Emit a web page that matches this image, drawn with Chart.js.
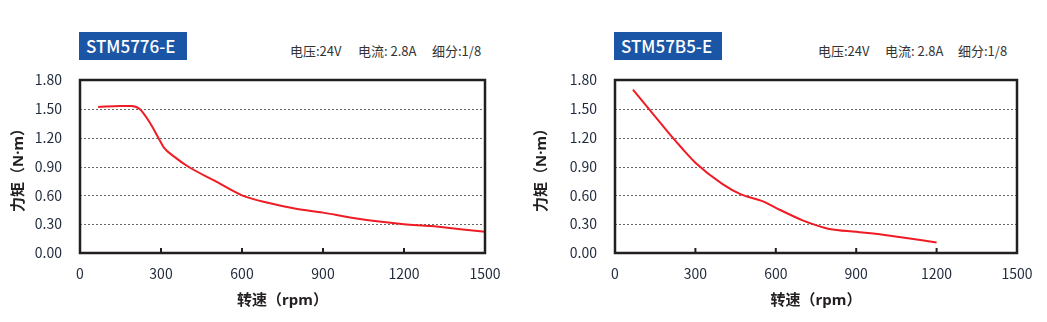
<!DOCTYPE html>
<html lang="zh">
<head>
<meta charset="UTF-8">
<title>矩频特性曲线</title>
<script src="https://cdn.jsdelivr.net/npm/chart.js"></script>
<style>
    body { margin: 0; background: #fff; font-family: "Noto Sans CJK SC", "Noto Sans", sans-serif; }
    .wrap { position: relative; width: 1047px; height: 322px; overflow: hidden; }
    .panel { position: absolute; top: 0; width: 523px; height: 322px; }
    .panel canvas { position: absolute; left: 0; top: 0; }
    .model {
        position: absolute; top: 32px; height: 28px; line-height: 28px;
        background: #1b55a5; color: #fff; font-size: 17px; font-weight: 500; padding: 0 7px;
    }
    .info { position: absolute; top: 41px; font-size: 13px; color: #333; white-space: pre; }
</style>
</head>
<body>
<div class="wrap">
    <div class="panel" style="left:0">
        <div class="model" style="left:79px; width:94px">STM5776-E</div>
        <div class="info" style="left:290px">电压:24V</div>
        <div class="info" style="left:358px">电流: 2.8A</div>
        <div class="info" style="left:432px">细分:1/8</div>
        <canvas id="chartA" width="523" height="322"></canvas>
    </div>
    <div class="panel" style="left:523px">
        <div class="model" style="left:91px; width:94px">STM57B5-E</div>
        <div class="info" style="left:295px">电压:24V</div>
        <div class="info" style="left:362px">电流: 2.8A</div>
        <div class="info" style="left:435px">细分:1/8</div>
        <canvas id="chartB" width="523" height="322"></canvas>
    </div>
</div>
<script>
// STM5776-E torque curve
const speedA = [67, 150, 190, 220, 260, 290, 310, 350, 400, 500, 600, 700, 800, 900, 1000, 1100, 1200, 1300, 1400, 1500];
const torqueA = [1.52, 1.53, 1.53, 1.50, 1.35, 1.20, 1.10, 1.00, 0.90, 0.75, 0.60, 0.52, 0.46, 0.42, 0.37, 0.33, 0.30, 0.28, 0.25, 0.22];

// STM57B5-E torque curve
const speedB = [67, 150, 200, 250, 300, 400, 470, 550, 600, 700, 750, 800, 900, 1000, 1100, 1200];
const torqueB = [1.70, 1.42, 1.25, 1.09, 0.94, 0.72, 0.61, 0.54, 0.47, 0.34, 0.29, 0.25, 0.22, 0.19, 0.15, 0.11];

const xTicks = [0, 300, 600, 900, 1200, 1500];
const yTicks = [0, 0.3, 0.6, 0.9, 1.2, 1.5, 1.8];

const labelColor = '#1f2a3c';
const fontFamily = '"Noto Sans CJK SC", "Noto Sans", sans-serif';
const titleFamily = '"Noto Sans", "Noto Sans CJK SC", sans-serif';

// dotted horizontal gridlines, placed by the y scale
const gridPlugin = {
    id: 'dotgrid',
    beforeDatasetsDraw(chart) {
        const { ctx, chartArea: a, scales } = chart;
        ctx.save();
        ctx.strokeStyle = '#666666';
        ctx.lineWidth = 1;
        ctx.setLineDash([2, 2]);
        yTicks.slice(1, -1).forEach(v => {
            const py = Math.round(scales.y.getPixelForValue(v)) + 0.5;
            ctx.beginPath();
            ctx.moveTo(a.left, py);
            ctx.lineTo(a.right, py);
            ctx.stroke();
        });
        ctx.restore();
    }
};

// frame around plot area + short inward ticks on the x axis
const framePlugin = {
    id: 'frame',
    afterDatasetsDraw(chart) {
        const { ctx, chartArea: a, scales } = chart;
        ctx.save();
        ctx.strokeStyle = '#231f20';
        ctx.lineWidth = 2.5;
        ctx.strokeRect(a.left, a.top, a.right - a.left, a.bottom - a.top);
        ctx.lineWidth = 2;
        xTicks.slice(1, -1).forEach(v => {
            const px = scales.x.getPixelForValue(v);
            ctx.beginPath();
            ctx.moveTo(px, a.bottom);
            ctx.lineTo(px, a.bottom - 5);
            ctx.stroke();
        });
        ctx.restore();
    }
};

function makeChart(id, speeds, torques, plotLeft, plotRight) {
    const ctx = document.getElementById(id).getContext('2d');
    return new Chart(ctx, {
        type: 'line',
        data: {
            datasets: [{
                data: speeds.map((s, i) => ({ x: s, y: torques[i] })),
                borderColor: '#ee1c25',
                borderWidth: 2,
                pointRadius: 0,
                cubicInterpolationMode: 'monotone',
                fill: false
            }]
        },
        options: {
            responsive: false,
            animation: false,
            layout: { padding: { top: 80, right: 523 - plotRight, left: 0, bottom: 0 } },
            plugins: { legend: { display: false }, tooltip: { enabled: false } },
            scales: {
                x: {
                    type: 'linear',
                    min: 0, max: 1500,
                    afterBuildTicks: s => { s.ticks = xTicks.map(v => ({ value: v })); },
                    afterFit: s => { s.height = 322 - 253; },
                    grid: { display: false, drawTicks: false },
                    border: { display: false },
                    ticks: {
                        padding: 12,
                        color: labelColor,
                        font: { family: fontFamily, size: 14 },
                        maxRotation: 0,
                        callback: v => String(v)
                    },
                    title: {
                        display: true,
                        text: '转速（rpm）',
                        color: '#231f20',
                        font: { family: titleFamily, size: 15, weight: 'bold' },
                        padding: { top: 0, bottom: 12 }
                    }
                },
                y: {
                    min: 0, max: 1.8,
                    afterBuildTicks: s => { s.ticks = yTicks.map(v => ({ value: v })); },
                    afterFit: s => { s.width = plotLeft; },
                    grid: { display: false, drawTicks: false },
                    border: { display: false },
                    ticks: {
                        padding: 18,
                        color: labelColor,
                        font: { family: fontFamily, size: 14 },
                        callback: v => v.toFixed(2)
                    },
                    title: {
                        display: true,
                        text: '力矩（N·m）',
                        color: '#231f20',
                        font: { family: titleFamily, size: 15, weight: 'bold' },
                        padding: { top: 10, bottom: 0 }
                    }
                }
            }
        },
        plugins: [gridPlugin, framePlugin]
    });
}

makeChart('chartA', speedA, torqueA, 80, 485);
makeChart('chartB', speedB, torqueB, 92, 494);
</script>
</body>
</html>
